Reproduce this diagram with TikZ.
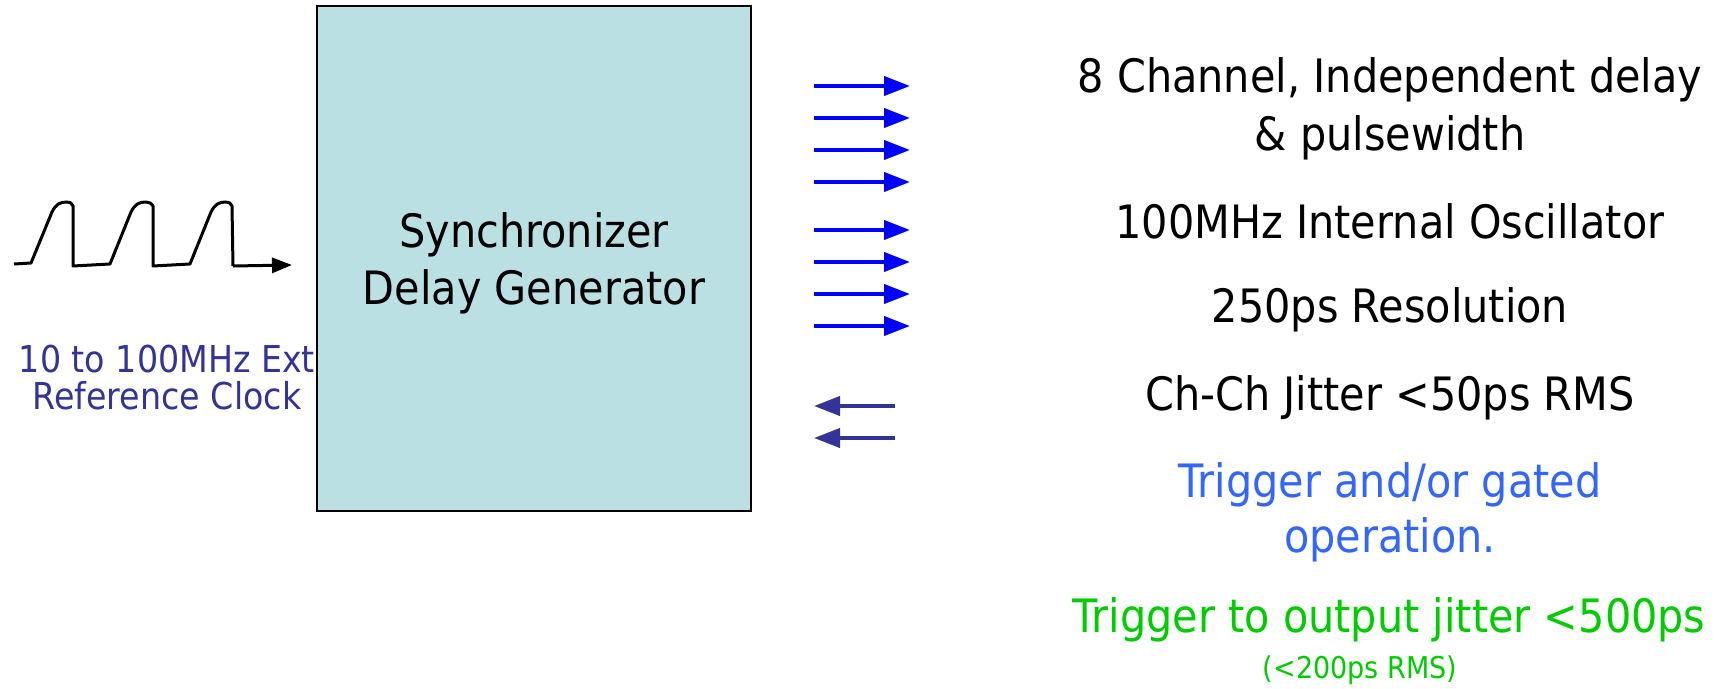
\documentclass[tikz,border=0pt]{standalone}
\usepackage{fontspec}
\setmainfont{DejaVu Sans}[FakeStretch=0.9]
\usetikzlibrary{arrows.meta}
\definecolor{boxfill}{RGB}{187,224,227}
\definecolor{navy}{RGB}{51,51,153}
\definecolor{trigblue}{RGB}{51,102,255}
\definecolor{trggreen}{RGB}{0,204,0}
\definecolor{pureblue}{RGB}{0,0,255}
\tikzset{
  big/.style={font=\fontsize{46}{58}\selectfont, anchor=base, inner sep=0pt},
  mid/.style={font=\fontsize{37}{38}\selectfont, anchor=base, inner sep=0pt, text=navy},
  small/.style={font=\fontsize{30}{34}\selectfont, anchor=base, inner sep=0pt},
  wave/.style={line width=3pt, line join=round, black},
  outarrow/.style={line width=4pt, pureblue, -{Triangle[length=26pt,width=19pt]}},
  inarrow/.style={line width=4pt, navy, -{Triangle[length=26pt,width=19pt]}},
  blockbox/.style={draw=black, line width=2pt, fill=boxfill, inner sep=0pt}
}
\begin{document}
\begin{tikzpicture}[x=1pt,y=-1pt]
\useasboundingbox (0,0) rectangle (1726,688);
% main block
\node[blockbox, minimum width=434pt, minimum height=505pt] (box) at (534,258.5) {};
\node[big] (syn1) at (534,247) {Synchronizer};
\node[big] (syn2) at (534,304) {Delay Generator};
% waveform
\coordinate (w0) at (14,264);
\coordinate (wtip) at (292,265);
\draw[wave] (w0) -- (31,263)
  -- (52,212) .. controls (56,204) and (60,202) .. (67,202) .. controls (70,202) and (72,203) .. (73,206) -- (73,266) -- (110,264)
  -- (131,212) .. controls (135,204) and (139,202) .. (146,202) .. controls (149,202) and (151,203) .. (153,206) -- (153,266) -- (190,264)
  -- (211,212) .. controls (215,204) and (219,202) .. (226,202) .. controls (229,202) and (231,203) .. (232,206) -- (233,266) coordinate (w1);
\draw[line width=3pt, -{Triangle[length=20pt,width=15pt]}] (w1) -- (wtip);
\node[mid] (ref1) at (167,372) {10 to 100MHz Ext};
\node[mid] (ref2) at (167,409) {Reference Clock};
% output arrows
\foreach \y [count=\i] in {86,118,150,182,230,262,294,326}{
  \coordinate (os\i) at (814,\y);
  \coordinate (oe\i) at (910,\y);
  \draw[outarrow] (os\i) -- (oe\i);
}
% input arrows
\foreach \y [count=\i] in {406,438}{
  \coordinate (is\i) at (895,\y);
  \coordinate (ie\i) at (814,\y);
  \draw[inarrow] (is\i) -- (ie\i);
}
% right text
\node[big] (f1a) at (1390,92) {8 Channel, Independent delay};
\node[big] (f1b) at (1390,150) {\& pulsewidth};
\node[big] (f2) at (1390,238) {100MHz Internal Oscillator};
\node[big] (f3) at (1390,322) {250ps Resolution};
\node[big] (f4) at (1390,410) {Ch-Ch Jitter <50ps RMS};
\node[big, text=trigblue] (f5a) at (1390,497) {Trigger and/or gated};
\node[big, text=trigblue] (f5b) at (1390,552) {operation.};
\node[big, text=trggreen] (f6a) at (1389,632) {Trigger to output jitter <500ps};
\node[small, text=trggreen] (f6b) at (1360,678) {(<200ps RMS)};
\end{tikzpicture}
\end{document}
